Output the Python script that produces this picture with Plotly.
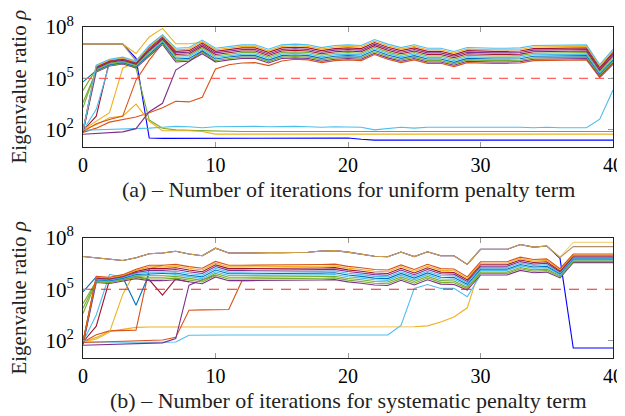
import plotly.graph_objects as go

ITER = list(range(41))

C_BLUE = "#0072BD"; C_ORANGE = "#D95319"; C_YELLOW = "#EDB120"; C_PURPLE = "#7E2F8E"
C_GREEN = "#77AC30"; C_LBLUE = "#4DBEEE"; C_DRED = "#A2142F"; C_PBLUE = "#0000FF"; C_TAN = "#B0906E"

# ---------- (a) uniform penalty term : log10 of eigenvalue ratio ----------
A_L0 = [1.95, 5.78, 6.12, 6.24, 6.02, 6.92, 7.55, 6.76, 6.80, 7.24, 6.76, 6.88, 6.96, 6.96, 6.70, 6.96, 7.00, 6.96, 6.80, 6.92, 6.96, 6.92, 7.27, 7.00, 6.80, 6.96, 6.76, 6.76, 6.57, 6.80, 6.76, 6.76, 6.76, 6.78, 6.92, 6.92, 6.96, 6.96, 6.96, 5.80, 6.70]
A_L1 = [1.95, 5.73, 6.07, 6.19, 5.97, 6.85, 7.49, 6.67, 6.71, 7.15, 6.67, 6.79, 6.87, 6.87, 6.61, 6.87, 6.91, 6.87, 6.71, 6.83, 6.87, 6.83, 7.18, 6.91, 6.71, 6.87, 6.67, 6.67, 6.48, 6.71, 6.67, 6.67, 6.67, 6.69, 6.83, 6.83, 6.87, 6.87, 6.87, 5.72, 6.61]
A_L2 = [1.95, 5.69, 6.03, 6.15, 5.93, 6.78, 7.42, 6.58, 6.62, 7.06, 6.58, 6.70, 6.78, 6.78, 6.52, 6.78, 6.82, 6.78, 6.62, 6.74, 6.78, 6.74, 7.09, 6.82, 6.62, 6.78, 6.58, 6.58, 6.39, 6.62, 6.58, 6.58, 6.58, 6.60, 6.74, 6.74, 6.78, 6.78, 6.78, 5.65, 6.52]
A_L3 = [1.90, 5.64, 5.98, 6.10, 5.88, 6.70, 7.36, 6.49, 6.53, 6.97, 6.49, 6.61, 6.69, 6.69, 6.43, 6.69, 6.73, 6.69, 6.53, 6.65, 6.69, 6.65, 7.00, 6.73, 6.53, 6.69, 6.49, 6.49, 6.30, 6.53, 6.49, 6.49, 6.49, 6.51, 6.65, 6.65, 6.69, 6.69, 6.69, 5.57, 6.43]
A_L4 = [1.95, 5.60, 5.94, 6.06, 5.84, 6.63, 7.30, 6.40, 6.44, 6.88, 6.40, 6.52, 6.60, 6.60, 6.34, 6.60, 6.64, 6.60, 6.44, 6.56, 6.60, 6.56, 6.91, 6.64, 6.44, 6.60, 6.40, 6.40, 6.21, 6.44, 6.40, 6.40, 6.40, 6.42, 6.56, 6.56, 6.60, 6.60, 6.60, 5.49, 6.34]
A_L5 = [4.30, 5.55, 5.89, 6.01, 5.79, 6.56, 7.23, 6.31, 6.35, 6.79, 6.31, 6.43, 6.51, 6.51, 6.25, 6.51, 6.55, 6.51, 6.35, 6.47, 6.51, 6.47, 6.82, 6.55, 6.35, 6.51, 6.31, 6.31, 6.12, 6.35, 6.31, 6.31, 6.31, 6.33, 6.47, 6.47, 6.51, 6.51, 6.51, 5.42, 6.25]
A_L6 = [1.95, 5.51, 5.85, 5.97, 5.75, 6.49, 7.17, 6.22, 6.26, 6.70, 6.22, 6.34, 6.42, 6.42, 6.16, 6.42, 6.46, 6.42, 6.26, 6.38, 6.42, 6.38, 6.73, 6.46, 6.26, 6.42, 6.22, 6.22, 6.03, 6.26, 6.22, 6.22, 6.22, 6.24, 6.38, 6.38, 6.42, 6.42, 6.42, 5.34, 6.16]
A_L7 = [4.80, 5.46, 5.80, 5.92, 5.70, 6.42, 7.11, 6.13, 6.17, 6.61, 6.13, 6.25, 6.33, 6.33, 6.07, 6.33, 6.37, 6.33, 6.17, 6.29, 6.33, 6.29, 6.64, 6.37, 6.17, 6.33, 6.13, 6.13, 5.94, 6.17, 6.13, 6.13, 6.13, 6.15, 6.29, 6.29, 6.33, 6.33, 6.33, 5.26, 6.07]
A_L8 = [3.60, 5.42, 5.76, 5.88, 5.66, 6.34, 7.05, 6.04, 6.08, 6.52, 6.04, 6.16, 6.24, 6.24, 5.98, 6.24, 6.28, 6.24, 6.08, 6.20, 6.24, 6.20, 6.55, 6.28, 6.08, 6.24, 6.04, 6.04, 5.85, 6.08, 6.04, 6.04, 6.04, 6.06, 6.20, 6.20, 6.24, 6.24, 6.24, 5.19, 5.98]
A_L9 = [1.85, 5.38, 5.72, 5.84, 5.62, 6.28, 6.99, 5.96, 6.00, 6.44, 5.96, 6.08, 6.16, 6.16, 5.90, 6.16, 6.20, 6.16, 6.00, 6.12, 6.16, 6.12, 6.47, 6.20, 6.00, 6.16, 5.96, 5.96, 5.77, 6.00, 5.96, 5.96, 5.96, 5.98, 6.12, 6.12, 6.16, 6.16, 6.16, 5.12, 5.90]

A_PBLUE = [7.00, 7.00, 7.00, 7.00, 6.17, 1.52, 1.50, 1.50, 1.50, 1.50, 1.50, 1.50, 1.50, 1.50, 1.50, 1.50, 1.50, 1.50, 1.50, 1.50, 1.52, 1.45, 1.40, 1.40, 1.40, 1.40, 1.40, 1.40, 1.40, 1.40, 1.40, 1.40, 1.40, 1.40, 1.40, 1.40, 1.40, 1.40, 1.40, 1.40, 1.40]
A_YHIGH = [7.00, 7.00, 7.00, 7.00, 6.45, 7.42, 7.92, 7.02, 7.02, 7.10, 6.67]
A_BROWN = [7.00, 7.00, 7.00, 7.00, 6.02]
A_GDROP = [3.30, 5.50, 5.85, 5.95, 5.60, 2.57, 2.09, 2.00, 1.97, 1.95, 1.90, 1.90, 1.90, 1.90, 1.90, 1.90, 1.90, 1.90, 1.90, 1.90, 1.90, 1.90, 1.90, 1.90, 1.90, 1.90, 1.90, 1.90, 1.90, 1.90, 1.90, 1.90, 1.90, 1.90, 1.90, 1.90, 1.90, 1.90, 1.90, 1.90, 1.90]
A_YLOW = [2.00, 2.30, 2.70, 2.80, 3.50, 2.50, 1.95, 1.95, 1.95, 1.90, 1.75, 1.75, 1.75, 1.75, 1.75, 1.75, 1.75, 1.75, 1.75, 1.75, 1.75, 1.75, 1.75, 1.75, 1.75, 1.75, 1.75, 1.75, 1.75, 1.75, 1.75, 1.75, 1.75, 1.75, 1.75, 1.75, 1.75, 1.75, 1.75, 1.75, 1.75]
A_LBLOW = [1.98, 2.00, 2.02, 2.04, 2.06, 2.10, 2.15, 2.20, 2.18, 2.12, 2.18, 2.20, 2.20, 2.20, 2.18, 2.20, 2.20, 2.18, 2.15, 2.18, 2.18, 2.15, 2.00, 2.08, 2.15, 2.10, 2.15, 2.15, 2.15, 2.15, 2.15, 2.15, 2.17, 2.15, 2.12, 2.15, 2.12, 2.12, 2.12, 2.62, 4.32]
A_PSLOW = [1.74, 1.78, 1.82, 1.88, 2.07, 3.06, 3.55, 5.49, 5.98, 6.60, 5.96]
A_OSLOW = [1.85, 2.10, 2.45, 2.60, 2.75, 3.00, 3.29, 3.67, 3.63, 3.90, 5.55, 5.80, 5.90, 5.92, 5.75, 6.02, 6.12, 6.08, 5.92, 6.04, 6.08, 6.04, 6.39, 6.12, 5.92, 6.08, 5.88, 5.88, 5.69, 5.92, 5.88, 5.88, 5.88, 5.90, 6.04, 6.04, 6.08, 6.08, 6.08, 5.05, 5.82]
A_OFAST = [1.90, 2.35, 2.60, 2.80, 4.90, 6.07, 7.05]
A_DRFAST = [1.95, 2.80, 6.03]
A_YFAST = [2.00, 2.50, 3.00, 5.60, 5.97]
A_LBFAST = [1.95, 3.20, 5.85]

# ---------- (b) systematic penalty term ----------
B_M0 = [1.93, 5.75, 5.70, 5.85, 6.16, 6.40, 6.40, 6.45, 6.32, 6.22, 6.62, 6.40, 6.40, 6.40, 6.40, 6.40, 6.42, 6.42, 6.44, 6.46, 6.33, 6.25, 6.15, 6.12, 6.42, 6.15, 6.45, 6.20, 6.18, 5.72, 6.60, 6.60, 6.60, 6.87, 6.73, 6.77, 6.20, 7.05, 7.05, 7.05, 7.05]
B_M1 = [1.93, 5.71, 5.66, 5.81, 6.10, 6.30, 6.30, 6.35, 6.22, 6.12, 6.52, 6.30, 6.30, 6.30, 6.30, 6.30, 6.32, 6.32, 6.34, 6.36, 6.23, 6.15, 6.05, 6.02, 6.32, 6.05, 6.35, 6.10, 6.08, 5.63, 6.51, 6.51, 6.51, 6.78, 6.64, 6.68, 6.14, 6.99, 6.99, 6.99, 6.99]
B_M2 = [1.93, 5.67, 5.62, 5.77, 6.04, 6.20, 6.20, 6.25, 6.12, 6.02, 6.42, 6.20, 6.20, 6.20, 6.20, 6.20, 6.22, 6.22, 6.24, 6.26, 6.13, 6.05, 5.95, 5.92, 6.22, 5.95, 6.25, 6.00, 5.98, 5.55, 6.43, 6.43, 6.43, 6.70, 6.56, 6.60, 6.08, 6.94, 6.94, 6.94, 6.94]
B_M3 = [1.80, 5.63, 5.58, 5.73, 5.98, 6.10, 6.10, 6.15, 6.02, 5.92, 6.32, 6.10, 6.10, 6.10, 6.10, 6.10, 6.12, 6.12, 6.14, 6.16, 6.03, 5.95, 5.85, 5.82, 6.12, 5.85, 6.15, 5.90, 5.88, 5.46, 6.34, 6.34, 6.34, 6.61, 6.47, 6.51, 6.02, 6.88, 6.88, 6.88, 6.88]
B_M4 = [1.93, 5.59, 5.54, 5.69, 5.92, 6.00, 6.00, 6.05, 5.92, 5.82, 6.22, 6.00, 6.00, 6.00, 6.00, 6.00, 6.02, 6.02, 6.04, 6.06, 5.93, 5.85, 5.75, 5.72, 6.02, 5.75, 6.05, 5.80, 5.78, 5.38, 6.26, 6.26, 6.26, 6.53, 6.39, 6.43, 5.96, 6.83, 6.83, 6.83, 6.83]
B_M5 = [1.93, 5.55, 5.50, 5.65, 5.86, 5.90, 5.90, 5.95, 5.82, 5.72, 6.12, 5.90, 5.90, 5.90, 5.90, 5.90, 5.92, 5.92, 5.94, 5.96, 5.83, 5.75, 5.65, 5.62, 5.92, 5.65, 5.95, 5.70, 5.68, 5.29, 6.17, 6.17, 6.17, 6.44, 6.30, 6.34, 5.90, 6.77, 6.77, 6.77, 6.77]
B_M6 = [1.93, 5.51, 5.46, 5.61, 5.80, 5.80, 5.80, 5.85, 5.72, 5.62, 6.02, 5.80, 5.80, 5.80, 5.80, 5.80, 5.82, 5.82, 5.84, 5.86, 5.73, 5.65, 5.55, 5.52, 5.82, 5.55, 5.85, 5.60, 5.58, 5.21, 6.09, 6.09, 6.09, 6.36, 6.22, 6.26, 5.84, 6.72, 6.72, 6.72, 6.72]
B_M7 = [4.17, 5.47, 5.42, 5.57, 5.74, 5.70, 5.70, 5.75, 5.62, 5.52, 5.92, 5.70, 5.70, 5.70, 5.70, 5.70, 5.72, 5.72, 5.74, 5.76, 5.63, 5.55, 5.45, 5.42, 5.72, 5.45, 5.75, 5.50, 5.48, 5.12, 6.00, 6.00, 6.00, 6.27, 6.13, 6.17, 5.78, 6.66, 6.66, 6.66, 6.66]
B_M8 = [3.59, 5.43, 5.38, 5.53, 5.68, 5.60, 5.60, 5.65, 5.52, 5.42, 5.82, 5.60, 5.60, 5.60, 5.60, 5.60, 5.62, 5.62, 5.64, 5.66, 5.53, 5.45, 5.35, 5.32, 5.62, 5.35, 5.65, 5.40, 5.38, 5.04, 5.92, 5.92, 5.92, 6.19, 6.05, 6.09, 5.72, 6.61, 6.61, 6.61, 6.61]
B_M9 = [1.78, 5.39, 5.34, 5.49, 5.62, 5.50, 5.50, 5.55, 5.42, 5.32, 5.72, 5.50, 5.50, 5.50, 5.50, 5.50, 5.52, 5.52, 5.54, 5.56, 5.43, 5.35, 5.25, 5.22, 5.52, 5.25, 5.55, 5.30, 5.28, 4.95, 5.83, 5.83, 5.83, 6.10, 5.96, 6.00, 5.66, 6.55, 6.55, 6.55, 6.55]

B_TOP_COMMON = [6.91, 6.83, 6.75, 6.67, 6.83, 7.07, 7.11, 7.21, 7.05, 6.95, 7.39, 7.11, 7.11, 7.14, 7.13, 7.13, 7.15, 7.15, 7.23, 7.25, 7.16, 7.03, 6.92, 6.89, 7.17, 6.90, 7.18, 6.95, 6.95, 6.45, 7.32, 7.32, 7.32, 7.60, 7.45, 7.52]
B_PBLUE_TAIL = [6.80, 1.58, 1.58, 1.58, 1.58]
B_YTOP_TAIL = [6.88, 7.73, 7.73, 7.73, 7.73]
B_TAN_TAIL = [6.85, 7.48, 7.48, 7.48, 7.48]
B_BLUEV = [4.85, 5.72, 5.40, 5.70, 4.07, 5.90]
B_DREDV = [1.93, 2.85, 5.53, 5.55, 5.75, 5.55, 4.66, 5.60, 5.42]
B_PSLOW = [1.74, 1.76, 1.78, 1.80, 1.82, 1.85, 1.88, 2.13, 5.24, 5.55, 5.82]
B_OSLOW1 = [1.93, 2.35, 2.58, 2.62, 2.62, 6.20, 6.40]
B_OSLOW2 = [1.90, 1.92, 1.94, 1.96, 1.98, 2.00, 2.05, 2.20, 3.78, 3.80, 3.80, 3.82, 5.50, 5.50]
B_YSLOW = [1.93, 2.20, 2.55, 2.65, 2.78, 2.80, 2.80, 2.80, 2.80, 2.80, 2.80, 2.80, 2.80, 2.80, 2.80, 2.80, 2.80, 2.80, 2.80, 2.80, 2.80, 2.80, 2.80, 2.80, 2.80, 2.82, 2.87, 3.10, 3.39, 3.92, 6.34]
B_LBSLOW = [1.93, 1.92, 1.92, 1.92, 1.92, 1.92, 1.92, 1.93, 2.32, 2.34, 2.34, 2.34, 2.34, 2.34, 2.34, 2.34, 2.34, 2.34, 2.34, 2.34, 2.34, 2.34, 2.34, 2.34, 2.90, 5.05, 5.28, 5.05, 5.05, 4.56, 5.83]
B_LBFAST = [1.93, 3.50, 5.87, 5.69]
B_YFAST = [1.93, 2.10, 2.50, 4.70, 6.10]
B_GSTART = [3.90, 5.47]

THRESHOLD = 1e5
Y_TICKS = [1e2, 1e5, 1e8]
Y_TICKTEXT = ["10<sup>2</sup>", "10<sup>5</sup>", "10<sup>8</sup>"]
X_TICKS = [0, 10, 20, 30, 40]
CAPTION_A = "(a) – Number of iterations for uniform penalty term"
CAPTION_B = "(b) – Number of iterations for systematic penalty term"
Y_TITLE = "Eigenvalue ratio <i>ρ</i>"

fig = go.Figure()


def add(exps, color, row, width=1.1, opacity=1.0):
    fig.add_trace(go.Scatter(
        x=ITER[:len(exps)], y=[10 ** e for e in exps], mode="lines",
        line=dict(color=color, width=width), opacity=opacity,
        xaxis="x" if row == 1 else "x2", yaxis="y" if row == 1 else "y2",
        showlegend=False, hoverinfo="skip"))


# (a)
add(A_PBLUE, C_PBLUE, 1)
add(A_YHIGH, C_YELLOW, 1)
add(A_BROWN, C_TAN, 1)
add(A_OSLOW, C_ORANGE, 1)
add(A_GDROP, C_GREEN, 1)
add(A_YLOW, C_YELLOW, 1)
add(A_LBLOW, C_LBLUE, 1)
add(A_PSLOW, C_PURPLE, 1)
add(A_OFAST, C_ORANGE, 1)
add(A_DRFAST, C_DRED, 1)
add(A_YFAST, C_YELLOW, 1)
add(A_LBFAST, C_LBLUE, 1)
for arr, col in [(A_L9, C_PURPLE), (A_L8, C_GREEN), (A_L7, C_BLUE), (A_L6, C_LBLUE),
                 (A_L5, C_GREEN), (A_L4, C_DRED), (A_L3, C_PURPLE), (A_L2, C_DRED),
                 (A_L1, C_YELLOW), (A_L0, C_LBLUE)]:
    add(arr, col, 1)
fig.add_trace(go.Scatter(x=[ITER[0], ITER[-1]], y=[THRESHOLD, THRESHOLD], mode="lines",
                         line=dict(color="rgba(255,70,70,0.85)", width=1.4, dash="9px,7px"),
                         showlegend=False, hoverinfo="skip"))

# (b)
add(B_TOP_COMMON + B_PBLUE_TAIL, C_PBLUE, 2)
add(B_TOP_COMMON + B_TAN_TAIL, C_TAN, 2)
add(B_TOP_COMMON + B_YTOP_TAIL, C_YELLOW, 2, opacity=0.55)
add(B_YSLOW, C_YELLOW, 2)
add(B_LBSLOW, C_LBLUE, 2)
add(B_OSLOW2, C_ORANGE, 2)
add(B_PSLOW, C_PURPLE, 2)
add(B_OSLOW1, C_ORANGE, 2)
add(B_DREDV, C_DRED, 2)
add(B_BLUEV, C_BLUE, 2)
add(B_LBFAST, C_LBLUE, 2)
add(B_YFAST, C_YELLOW, 2)
add(B_GSTART, C_GREEN, 2)
for arr, col in [(B_M9, C_PURPLE), (B_M8, C_GREEN), (B_M7, C_GREEN), (B_M6, C_LBLUE),
                 (B_M5, C_BLUE), (B_M4, C_LBLUE), (B_M3, C_PURPLE), (B_M2, C_DRED),
                 (B_M1, C_YELLOW), (B_M0, C_ORANGE)]:
    add(arr, col, 2)
fig.add_trace(go.Scatter(x=[ITER[0], ITER[-1]], y=[THRESHOLD, THRESHOLD], mode="lines",
                         line=dict(color="#F02020", width=1.2, dash="10px,8px"),
                         xaxis="x2", yaxis="y2", showlegend=False, hoverinfo="skip"))

FONT = "Liberation Serif"
xcommon = dict(range=[0, 40], tickvals=X_TICKS, ticks="inside", ticklen=5, tickcolor="#999999",
               showline=True, linecolor="#222222", linewidth=1, mirror="ticks", automargin=False,
               showgrid=False, zeroline=False, tickfont=dict(family=FONT, size=20, color="black"))
ycommon = dict(type="log", range=[1, 8], tickvals=Y_TICKS, ticktext=Y_TICKTEXT, ticks="inside",
               ticklen=5, tickcolor="#999999", showline=True, linecolor="#222222", linewidth=1,
               mirror="ticks", showgrid=False, zeroline=False, automargin=False,
               ticklabelstandoff=4, tickfont=dict(family=FONT, size=21, color="black"))

# the page body adds an 8 px offset, so the figure is 8 px smaller and margins shifted
fig.update_layout(
    width=617, height=408, paper_bgcolor="white", plot_bgcolor="white",
    font=dict(family=FONT, size=20, color="black"),
    margin=dict(l=75, r=12, t=19, b=58, autoexpand=False),
    xaxis=dict(domain=[0, 1], anchor="y", **xcommon),
    yaxis=dict(domain=[0.6375, 1.0], anchor="x", **ycommon),
    xaxis2=dict(domain=[0, 1], anchor="y2", **xcommon),
    yaxis2=dict(domain=[0.0, 0.3634], anchor="x2", **ycommon),
    annotations=[
        dict(text=CAPTION_A, x=0.5, y=0.5076, xref="paper", yref="paper", showarrow=False,
             xanchor="center", yanchor="middle", font=dict(family=FONT, size=22, color="#222")),
        dict(text=CAPTION_B, x=0.5, y=-0.128, xref="paper", yref="paper", showarrow=False,
             xanchor="center", yanchor="middle", font=dict(family=FONT, size=22, color="#222")),
        dict(text=Y_TITLE, x=-0.1198, y=0.8187, xref="paper", yref="paper", showarrow=False,
             textangle=-90, xanchor="center", yanchor="middle",
             font=dict(family=FONT, size=21, color="#222")),
        dict(text=Y_TITLE, x=-0.1198, y=0.181, xref="paper", yref="paper", showarrow=False,
             textangle=-90, xanchor="center", yanchor="middle",
             font=dict(family=FONT, size=21, color="#222")),
    ],
)

fig.write_html("out.html")
